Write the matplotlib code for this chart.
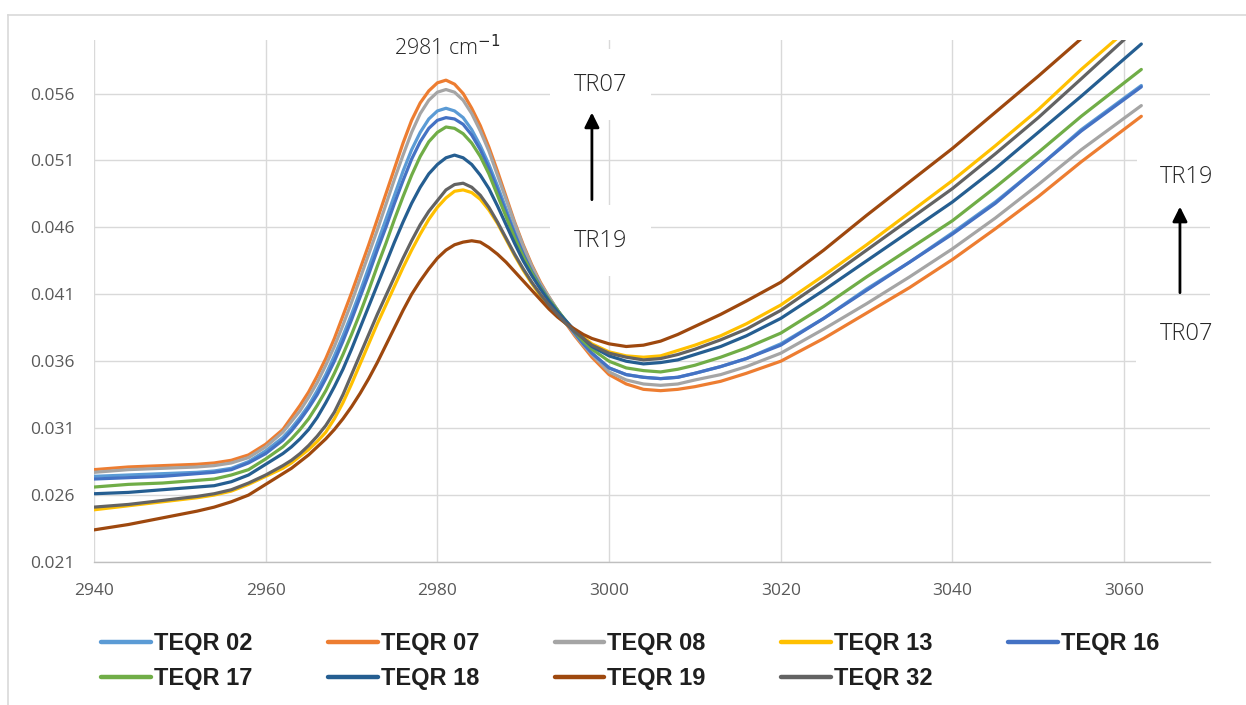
import matplotlib
matplotlib.use("Agg")
import matplotlib.pyplot as plt
from matplotlib.lines import Line2D

# ---------------- data ----------------
wavenumber = [2940, 2944, 2948, 2952, 2954, 2956, 2958, 2960,
              2962, 2963, 2964, 2965, 2966, 2967, 2968, 2969, 2970, 2971, 2972, 2973,
              2974, 2975, 2976, 2977, 2978, 2979, 2980, 2981, 2982, 2983, 2984, 2985,
              2986, 2987, 2988, 2989, 2990, 2991, 2992, 2993, 2994, 2995, 2996, 2997,
              2998,
              3000, 3002, 3004, 3006, 3008, 3010, 3013, 3016, 3020, 3025, 3030, 3035,
              3040, 3045, 3050, 3055, 3062]

teqr02 = [0.0274, 0.0275, 0.0276, 0.0277, 0.0278, 0.0280, 0.0285, 0.0293,
          0.0303, 0.0310, 0.0318, 0.0327, 0.0338, 0.0350, 0.0364, 0.0379, 0.0395, 0.0412,
          0.0430, 0.0448, 0.0466, 0.0484, 0.0502, 0.0518, 0.0531, 0.0541, 0.0547, 0.0549,
          0.0547, 0.0542, 0.0533, 0.0521, 0.0507, 0.0491, 0.0474, 0.0457, 0.0442, 0.0429,
          0.0417, 0.0407, 0.0398, 0.0389, 0.0381, 0.0373, 0.0366,
          0.0355, 0.0350, 0.0348, 0.0347, 0.0348, 0.0351, 0.0356, 0.0362, 0.0373, 0.0392,
          0.0414, 0.0434, 0.0456, 0.0479, 0.0505, 0.0533, 0.0566]
teqr07 = [0.0279, 0.0281, 0.0282, 0.0283, 0.0284, 0.0286, 0.0290, 0.0298,
          0.0309, 0.0318, 0.0327, 0.0337, 0.0349, 0.0362, 0.0377, 0.0394, 0.0411, 0.0429,
          0.0447, 0.0466, 0.0485, 0.0504, 0.0523, 0.0540, 0.0553, 0.0562, 0.0568, 0.0570,
          0.0567, 0.0560, 0.0549, 0.0536, 0.0520, 0.0502, 0.0483, 0.0464, 0.0447, 0.0432,
          0.0419, 0.0408, 0.0398, 0.0388, 0.0379, 0.0371, 0.0363,
          0.0350, 0.0343, 0.0339, 0.0338, 0.0339, 0.0341, 0.0345, 0.0351, 0.0360, 0.0377,
          0.0396, 0.0415, 0.0436, 0.0459, 0.0483, 0.0509, 0.0543]
teqr08 = [0.0277, 0.0279, 0.0280, 0.0281, 0.0282, 0.0284, 0.0288, 0.0296,
          0.0307, 0.0315, 0.0323, 0.0333, 0.0344, 0.0357, 0.0371, 0.0387, 0.0404, 0.0422,
          0.0440, 0.0458, 0.0477, 0.0496, 0.0514, 0.0531, 0.0545, 0.0555, 0.0561, 0.0563,
          0.0561, 0.0555, 0.0545, 0.0532, 0.0517, 0.0499, 0.0481, 0.0463, 0.0446, 0.0431,
          0.0418, 0.0408, 0.0398, 0.0389, 0.0380, 0.0372, 0.0365,
          0.0352, 0.0346, 0.0343, 0.0342, 0.0343, 0.0346, 0.0350, 0.0356, 0.0366, 0.0384,
          0.0403, 0.0423, 0.0444, 0.0467, 0.0492, 0.0518, 0.0551]
teqr13 = [0.0249, 0.0252, 0.0255, 0.0258, 0.0260, 0.0263, 0.0268, 0.0274,
          0.0280, 0.0284, 0.0289, 0.0294, 0.0300, 0.0307, 0.0317, 0.0329, 0.0343, 0.0358,
          0.0373, 0.0388, 0.0402, 0.0416, 0.0430, 0.0443, 0.0455, 0.0466, 0.0475, 0.0482,
          0.0487, 0.0488, 0.0486, 0.0481, 0.0473, 0.0463, 0.0451, 0.0439, 0.0428, 0.0418,
          0.0409, 0.0401, 0.0394, 0.0388, 0.0383, 0.0378, 0.0373,
          0.0367, 0.0364, 0.0363, 0.0364, 0.0368, 0.0372, 0.0379, 0.0388, 0.0402, 0.0424,
          0.0447, 0.0471, 0.0495, 0.0521, 0.0548, 0.0578, 0.0617]
teqr16 = [0.0272, 0.0273, 0.0274, 0.0276, 0.0277, 0.0279, 0.0284, 0.0291,
          0.0301, 0.0308, 0.0316, 0.0325, 0.0335, 0.0347, 0.0360, 0.0375, 0.0391, 0.0408,
          0.0425, 0.0443, 0.0460, 0.0478, 0.0495, 0.0511, 0.0524, 0.0534, 0.0540, 0.0542,
          0.0541, 0.0537, 0.0529, 0.0518, 0.0504, 0.0488, 0.0471, 0.0455, 0.0440, 0.0427,
          0.0416, 0.0406, 0.0398, 0.0389, 0.0381, 0.0373, 0.0366,
          0.0355, 0.0350, 0.0348, 0.0347, 0.0348, 0.0351, 0.0356, 0.0362, 0.0372, 0.0392,
          0.0413, 0.0434, 0.0455, 0.0478, 0.0505, 0.0532, 0.0565]
teqr17 = [0.0266, 0.0268, 0.0269, 0.0271, 0.0272, 0.0275, 0.0279, 0.0287,
          0.0296, 0.0302, 0.0309, 0.0317, 0.0327, 0.0338, 0.0351, 0.0365, 0.0380, 0.0396,
          0.0413, 0.0431, 0.0448, 0.0466, 0.0483, 0.0499, 0.0513, 0.0524, 0.0531, 0.0535,
          0.0534, 0.0530, 0.0523, 0.0513, 0.0500, 0.0484, 0.0468, 0.0452, 0.0438, 0.0426,
          0.0415, 0.0406, 0.0398, 0.0390, 0.0382, 0.0375, 0.0369,
          0.0360, 0.0355, 0.0353, 0.0352, 0.0354, 0.0357, 0.0363, 0.0370, 0.0381, 0.0401,
          0.0423, 0.0444, 0.0465, 0.0490, 0.0516, 0.0543, 0.0578]
teqr18 = [0.0261, 0.0262, 0.0264, 0.0266, 0.0267, 0.0270, 0.0275, 0.0283,
          0.0291, 0.0296, 0.0302, 0.0309, 0.0318, 0.0329, 0.0341, 0.0354, 0.0369, 0.0385,
          0.0401, 0.0417, 0.0433, 0.0449, 0.0464, 0.0478, 0.0490, 0.0500, 0.0507, 0.0512,
          0.0514, 0.0512, 0.0507, 0.0499, 0.0489, 0.0476, 0.0462, 0.0448, 0.0435, 0.0424,
          0.0414, 0.0405, 0.0397, 0.0390, 0.0383, 0.0377, 0.0371,
          0.0364, 0.0360, 0.0358, 0.0359, 0.0361, 0.0365, 0.0371, 0.0379, 0.0392, 0.0413,
          0.0435, 0.0457, 0.0479, 0.0504, 0.0531, 0.0558, 0.0597]
teqr19 = [0.0234, 0.0238, 0.0243, 0.0248, 0.0251, 0.0255, 0.0260, 0.0268,
          0.0276, 0.0280, 0.0285, 0.0290, 0.0296, 0.0302, 0.0309, 0.0317, 0.0326, 0.0336,
          0.0347, 0.0359, 0.0372, 0.0385, 0.0398, 0.0410, 0.0420, 0.0429, 0.0437, 0.0443,
          0.0447, 0.0449, 0.0450, 0.0449, 0.0445, 0.0440, 0.0434, 0.0427, 0.0420, 0.0413,
          0.0406, 0.0399, 0.0393, 0.0388, 0.0384, 0.0380, 0.0377,
          0.0373, 0.0371, 0.0372, 0.0375, 0.0380, 0.0386, 0.0395, 0.0405, 0.0419, 0.0443,
          0.0469, 0.0494, 0.0519, 0.0546, 0.0573, 0.0601, 0.0642]
teqr32 = [0.0251, 0.0253, 0.0256, 0.0259, 0.0261, 0.0264, 0.0269, 0.0275,
          0.0282, 0.0286, 0.0291, 0.0297, 0.0304, 0.0312, 0.0322, 0.0335, 0.0350, 0.0365,
          0.0380, 0.0395, 0.0409, 0.0423, 0.0437, 0.0450, 0.0462, 0.0472, 0.0480, 0.0488,
          0.0492, 0.0493, 0.0490, 0.0484, 0.0475, 0.0464, 0.0452, 0.0440, 0.0429, 0.0419,
          0.0410, 0.0402, 0.0395, 0.0388, 0.0382, 0.0377, 0.0372,
          0.0366, 0.0363, 0.0361, 0.0362, 0.0365, 0.0369, 0.0376, 0.0384, 0.0398, 0.0420,
          0.0443, 0.0466, 0.0489, 0.0515, 0.0542, 0.0571, 0.0612]

series_names = ["TEQR 02", "TEQR 07", "TEQR 08", "TEQR 13", "TEQR 16",
                "TEQR 17", "TEQR 18", "TEQR 19", "TEQR 32"]
series_values = [teqr02, teqr07, teqr08, teqr13, teqr16, teqr17, teqr18, teqr19, teqr32]
series_colors = ["#5B9BD5", "#ED7D31", "#A5A5A5", "#FFC000", "#4472C4",
                 "#70AD47", "#255E91", "#9E480E", "#636363"]

x_ticks = [2940, 2960, 2980, 3000, 3020, 3040, 3060]
y_ticks = [0.021, 0.026, 0.031, 0.036, 0.041, 0.046, 0.051, 0.056]
y_tick_labels = ["0.021", "0.026", "0.031", "0.036", "0.041", "0.046", "0.051", "0.056"]

for v in series_values:
    assert len(v) == len(wavenumber)

# ---------------- figure ----------------
W, H = 1246, 705
fig = plt.figure(figsize=(W / 100, H / 100), dpi=100)
fig.patch.set_facecolor("white")

# outer chart border (left and top visible)
fig.add_artist(Line2D([8 / W, 8 / W], [0, 1 - 15 / H], color="#D9D9D9", lw=1.2))
fig.add_artist(Line2D([8 / W, 1], [1 - 15 / H, 1 - 15 / H], color="#D9D9D9", lw=1.2))

ax = fig.add_axes([94 / W, 1 - 562 / H, (1210 - 94) / W, (562 - 40) / H])

lines = []
for name, vals, col in zip(series_names, series_values, series_colors):
    ln, = ax.plot(wavenumber, vals, color=col, lw=2.3, label=name,
                  solid_capstyle="round", solid_joinstyle="round", zorder=3)
    lines.append(ln)

ax.set_xlim(2940, 3070)
ax.set_ylim(0.021, 0.0600)
ax.set_xticks(x_ticks)
ax.set_yticks(y_ticks)
ax.set_yticklabels(y_tick_labels)
ax.grid(True, color="#D9D9D9", lw=1.0, zorder=0)
ax.set_axisbelow(True)
for s in ["top", "right", "left"]:
    ax.spines[s].set_visible(False)
ax.spines["bottom"].set_color("#BFBFBF")
ax.spines["bottom"].set_linewidth(1.0)
ax.tick_params(axis="both", length=0, labelsize=12.5, labelcolor="#595959")
ax.tick_params(axis="x", pad=15)
ax.tick_params(axis="y", pad=14)
for lab in ax.get_xticklabels() + ax.get_yticklabels():
    lab.set_family("Open Sans")

# ---------------- annotations ----------------
txt_kw = dict(ha="center", va="center", fontsize=17, color="#262626",
              family="Open Sans", fontweight="light", zorder=5)
box = dict(boxstyle="square,pad=1.0", facecolor="white", edgecolor="none")

ax.text(2981.2, 0.05944, "2981 cm$^{-1}$", ha="center", va="center", fontsize=15.5,
        color="#262626", family="Open Sans", fontweight="light", zorder=5)

ax.text(2999.0, 0.05667, "TR07", bbox=box, **txt_kw)
ax.text(2999.0, 0.04501, "TR19", bbox=box, **txt_kw)
ax.annotate("", xy=(2998.0, 0.05458), xytext=(2998.0, 0.04807),
            arrowprops=dict(arrowstyle="-|>", color="black", lw=2.0,
                            mutation_scale=22, shrinkA=0, shrinkB=0), zorder=6)

ax.text(3067.3, 0.04979, "TR19", bbox=box, clip_on=False, **txt_kw)
ax.text(3067.3, 0.03805, "TR07", bbox=box, clip_on=False, **txt_kw)
ax.annotate("", xy=(3066.5, 0.04755), xytext=(3066.5, 0.04112),
            arrowprops=dict(arrowstyle="-|>", color="black", lw=2.0,
                            mutation_scale=22, shrinkA=0, shrinkB=0), zorder=6,
            annotation_clip=False)

# ---------------- legend (row-major order) ----------------
order = [0, 5, 1, 6, 2, 7, 3, 8, 4]
handles = [lines[i] for i in order]
labels = [series_names[i] for i in order]
leg = fig.legend(handles, labels, loc="upper left", bbox_to_anchor=(80 / W, 1 - 611 / H),
                 ncol=5, frameon=False, handlelength=2.1, handletextpad=0.13,
                 columnspacing=3.2, labelspacing=0.5,
                 prop={"family": "Liberation Sans", "weight": "bold", "size": 17})
for t in leg.get_texts():
    t.set_color("#1F1F1F")
for lh in leg.get_lines():
    lh.set_linewidth(3.2)

fig.savefig("out.png", dpi=100, facecolor="white")
